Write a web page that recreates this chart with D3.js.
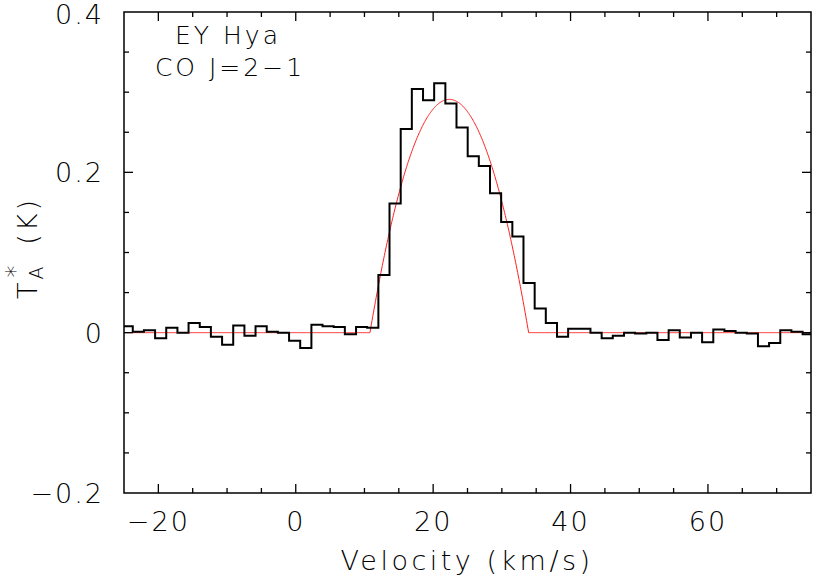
<!DOCTYPE html>
<html><head><meta charset="utf-8">
<script src="https://cdn.jsdelivr.net/npm/d3@7"></script>
<style>body{margin:0;background:#fff}text{font-family:"DejaVu Sans",sans-serif;font-weight:200}</style>
</head><body><svg id="c" width="830" height="579"></svg>
<script>
const channelWidth = 1.625;
const velocities = [-24.54,-22.91,-21.29,-19.66,-18.04,-16.41,-14.79,-13.16,-11.54,-9.91,
 -8.29,-6.66,-5.04,-3.41,-1.79,-0.16,1.46,3.09,4.71,6.34,
 7.96,9.59,11.21,12.84,14.46,16.09,17.71,19.34,20.96,22.59,
 24.21,25.84,27.46,29.09,30.71,32.34,33.96,35.59,37.21,38.84,
 40.46,42.09,43.71,45.34,46.96,48.59,50.21,51.84,53.46,55.09,
 56.71,58.34,59.96,61.59,63.21,64.84,66.46,68.09,69.71,71.34,72.96,74.59];
const temps = [0.008,0.001,0.003,-0.007,0.006,0,0.012,0.007,-0.005,-0.015,
 0.009,-0.004,0.008,0.001,0,-0.010,-0.019,0.010,0.008,0.007,
 -0.002,0.007,0.006,0.072,0.161,0.254,0.304,0.290,0.311,0.286,
 0.256,0.220,0.208,0.174,0.138,0.120,0.062,0.030,0.012,-0.005,
 0.005,0.005,0,-0.007,-0.004,0,-0.001,0,-0.009,0.003,
 -0.006,0,-0.012,0.004,0.002,0,-0.001,-0.017,-0.013,0.003,0.001,-0.002];
// shell-profile fit: [centre velocity, half width, peak]
const fitParams = [22.35, 11.55, 0.291];
const xTicks = [-20,0,20,40,60];
const yTicks = [-0.2,0,0.2,0.4];
const yTickLabels = ["\u22120.2","0","0.2","0.4"];
const xTickLabels = ["\u221220","0","20","40","60"];

const svg = d3.select("#c");
const L=124,R=811,T=12,B=493;
const x = d3.scaleLinear().domain([-25,75]).range([L,R]);
const y = d3.scaleLinear().domain([-0.2,0.4]).range([B,T]);
svg.append("clipPath").attr("id","cp").append("rect").attr("x",L).attr("y",T).attr("width",R-L).attr("height",B-T);

const fitPts=[];
for(let v=-25; v<=75.001; v+=0.1){
  const u=(v-fitParams[0])/fitParams[1];
  fitPts.push([v, Math.abs(u)<1 ? fitParams[2]*(1-u*u) : 0]);
}
const ln = d3.line().x(d=>x(d[0])).y(d=>y(d[1]));
svg.append("path").attr("d",ln(fitPts)).attr("fill","none").attr("stroke","#ff2020").attr("stroke-width",1).attr("clip-path","url(#cp)");

const stepPts = velocities.map((v,i)=>[v-channelWidth/2, temps[i]]);
stepPts.push([velocities[velocities.length-1]+channelWidth/2, temps[temps.length-1]]);
svg.append("path").attr("d",d3.line().curve(d3.curveStepAfter).x(d=>x(d[0])).y(d=>y(d[1]))(stepPts))
 .attr("fill","none").attr("stroke","#000").attr("stroke-width",2).attr("clip-path","url(#cp)");

svg.append("rect").attr("x",L).attr("y",T).attr("width",R-L).attr("height",B-T).attr("fill","none").attr("stroke","#000").attr("stroke-width",1.5);
const g=svg.append("g").attr("stroke","#000").attr("stroke-width",1.3);
d3.range(-25,76,5).forEach(v=>{
  const len = v%20===0?9:5, px=x(v);
  if(v<=-25||v>=75) return;
  g.append("line").attr("x1",px).attr("x2",px).attr("y1",B).attr("y2",B-len);
  g.append("line").attr("x1",px).attr("x2",px).attr("y1",T).attr("y2",T+len);
});
d3.range(-4,9).forEach(k=>{
  const v=k*0.05, major=k%4===0, len=major?9:5, py=y(v);
  if(k===-4||k===8) return;
  g.append("line").attr("x1",L).attr("x2",L+len).attr("y1",py).attr("y2",py);
  g.append("line").attr("x1",R).attr("x2",R-len).attr("y1",py).attr("y2",py);
});
xTicks.forEach((v,i)=>svg.append("text").attr("x",x(v)).attr("y",531).attr("text-anchor","middle").attr("font-size",27).attr("letter-spacing",2).text(xTickLabels[i]));
yTicks.forEach((v,i)=>svg.append("text").attr("x",104).attr("y",Math.max(y(v)+10,24)).attr("text-anchor","end").attr("font-size",27).attr("letter-spacing",2).text(yTickLabels[i]));
svg.append("text").attr("x",467).attr("y",570).attr("text-anchor","middle").attr("font-size",27).attr("letter-spacing",3.5).text("Velocity (km/s)");
const yl=svg.append("text").attr("transform","translate(37,248) rotate(-90)").attr("text-anchor","middle").attr("font-size",27).attr("letter-spacing",3);
yl.append("tspan").text("T");
yl.append("tspan").attr("font-size",19).attr("dy",6).text("A");
yl.append("tspan").attr("font-size",24).attr("dy",-20).attr("dx",-14).text("*");
yl.append("tspan").attr("dy",14).attr("dx",6).text(" (K)");
svg.append("text").attr("x",228).attr("y",44).attr("text-anchor","middle").attr("font-size",25).attr("letter-spacing",3).text("EY Hya");
svg.append("text").attr("x",230).attr("y",76).attr("text-anchor","middle").attr("font-size",25).attr("letter-spacing",3).text("CO J=2\u22121");
</script></body></html>
